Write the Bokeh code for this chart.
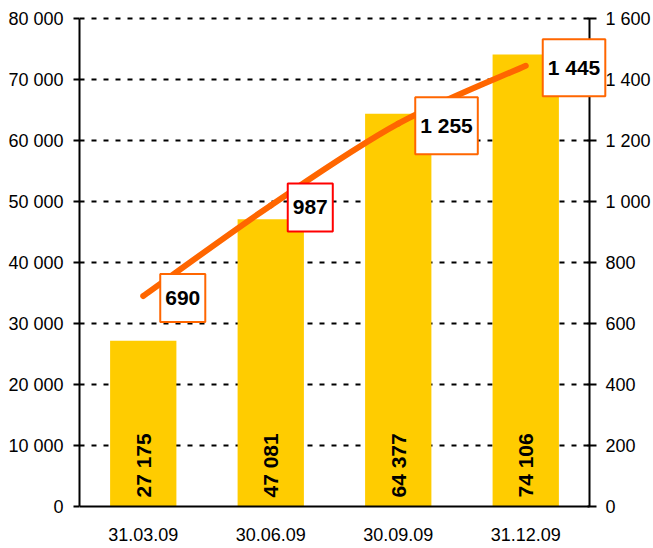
from bokeh.plotting import figure
from bokeh.models import (Range1d, LinearAxis, FixedTicker, ColumnDataSource,
                          LabelSet, Label)
from bokeh.core.properties import value
from bokeh.embed import file_html
from bokeh.resources import INLINE

categories = ["31.03.09", "30.06.09", "30.09.09", "31.12.09"]
bar_values = [27175, 47081, 64377, 74106]
line_values = [690, 987, 1255, 1445]
box_colors = ["#FF6600", "#FF0000", "#FF6600", "#FF6600"]
left_ticks = list(range(0, 80001, 10000))
right_ticks = list(range(0, 1601, 200))
left_max = 80000
right_max = 1600

FONT = "Liberation Sans"
N = len(categories)
xpos = [i + 0.5 for i in range(N)]

# layout (pixels): value axes span 488 px; the frame is enlarged around them
# so that pinned axes and value boxes are not clipped
AX_PX = 488.0
PAD_TOP = 12.0
PAD_BOTTOM = 42.0


def fmt(v):
    return f"{v:,}".replace(",", " ")


def padded(vmax):
    k = vmax / AX_PX
    return Range1d(-PAD_BOTTOM * k, vmax + PAD_TOP * k)


p = figure(width=653, height=548, output_backend="svg", toolbar_location=None,
           x_range=Range1d(0, N + 0.502), y_range=padded(left_max),
           min_border_left=79, min_border_top=6,
           min_border_right=0, min_border_bottom=0)
p.outline_line_color = None
p.background_fill_color = "white"
p.extra_y_ranges = {"right": padded(right_max)}

# bars
src = ColumnDataSource(dict(x=xpos, top=bar_values,
                            txt=[fmt(v) for v in bar_values],
                            y0=[0] * N))
p.vbar(x="x", top="top", width=0.52, source=src, fill_color="#FFCC00",
       line_color=None)

# smoothed line through the data points (Catmull-Rom style Bezier segments)
pts = list(zip(xpos, line_values))
seg = dict(x0=[], y0=[], x1=[], y1=[], cx0=[], cy0=[], cx1=[], cy1=[])
for i in range(N - 1):
    pm = pts[max(i - 1, 0)]
    a = pts[i]
    b = pts[i + 1]
    pn = pts[min(i + 2, N - 1)]
    seg["x0"].append(a[0]); seg["y0"].append(a[1])
    seg["x1"].append(b[0]); seg["y1"].append(b[1])
    seg["cx0"].append(a[0] + (b[0] - pm[0]) / 6)
    seg["cy0"].append(a[1] + (b[1] - pm[1]) / 6)
    seg["cx1"].append(b[0] - (pn[0] - a[0]) / 6)
    seg["cy1"].append(b[1] - (pn[1] - a[1]) / 6)
p.bezier(x0="x0", y0="y0", x1="x1", y1="y1", cx0="cx0", cy0="cy0",
         cx1="cx1", cy1="cy1", source=ColumnDataSource(seg),
         y_range_name="right", line_color="#FF6600", line_width=6,
         line_cap="round")

# bar labels
p.add_layout(LabelSet(x="x", y="y0", text="txt", source=src, angle=90,
                      angle_units="deg", text_align="left",
                      text_baseline="middle", y_offset=9,
                      text_font=value(FONT), text_font_size="21px",
                      text_font_style="bold", text_color="black"))

# line labels
for xp, v, c in zip(xpos, line_values, box_colors):
    p.add_layout(Label(x=xp, y=v, y_range_name="right", text=fmt(v),
                       x_offset=17, y_offset=-2, text_align="left",
                       text_baseline="middle", text_font=FONT,
                       text_font_size="21px", text_font_style="bold",
                       text_color="black", background_fill_color="white",
                       border_line_color=c, border_line_width=2,
                       level="overlay",
                       padding=dict(left=5, right=5, top=17, bottom=17)))

# left axis
ya = p.yaxis[0]
ya.ticker = FixedTicker(ticks=left_ticks)
ya.major_label_overrides = {t: fmt(t) for t in left_ticks}
ya.bounds = (0, left_max)
ya.axis_line_width = 2
ya.major_tick_line_width = 2
ya.major_tick_out = 6
ya.major_tick_in = 0
ya.minor_tick_line_color = None
ya.major_label_standoff = 10
ya.major_label_text_font = FONT
ya.major_label_text_font_size = "18px"
ya.major_label_text_color = "black"

# right axis
ra = LinearAxis(y_range_name="right", ticker=FixedTicker(ticks=right_ticks),
                fixed_location=N, bounds=(0, right_max))
ra.major_label_overrides = {t: fmt(t) for t in right_ticks}
ra.axis_line_width = 2
ra.major_tick_line_width = 2
ra.major_tick_out = 7
ra.major_tick_in = 2
ra.minor_tick_line_color = None
ra.major_label_standoff = 9
ra.major_label_text_font = FONT
ra.major_label_text_font_size = "18px"
ra.major_label_text_color = "black"
p.add_layout(ra, "right")

# x axis
xa = p.xaxis[0]
xa.fixed_location = 0
xa.ticker = FixedTicker(ticks=xpos)
xa.major_label_overrides = {xp: c for xp, c in zip(xpos, categories)}
xa.bounds = (0, N)
xa.axis_line_width = 2
xa.major_tick_line_color = None
xa.minor_tick_line_color = None
xa.major_label_standoff = 15
xa.major_label_text_font = FONT
xa.major_label_text_font_size = "18px"
xa.major_label_text_color = "black"

# grid
p.xgrid.visible = False
p.ygrid.ticker = FixedTicker(ticks=left_ticks[1:])
p.ygrid.cross_bounds = (0, N)
p.ygrid.grid_line_color = "black"
p.ygrid.grid_line_width = 2
p.ygrid.grid_line_dash = "5 7"

open("out.html", "w").write(file_html(p, INLINE))
